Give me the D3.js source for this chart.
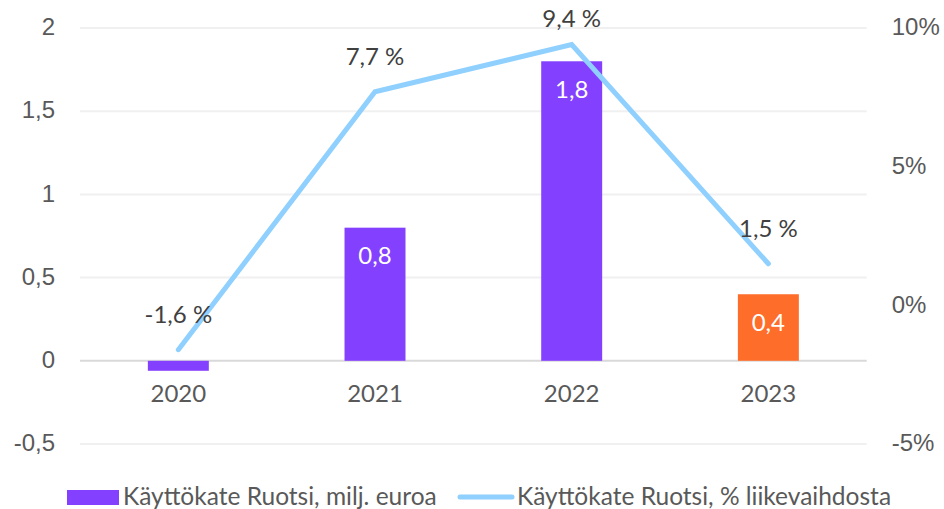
<!DOCTYPE html>
<html><head><meta charset="utf-8">
<script src="https://cdn.jsdelivr.net/npm/d3@7"></script>
<style>body{margin:0;background:#fff}svg{display:block;font-family:Lato,"Open Sans",sans-serif}</style>
</head><body><svg id="c" width="944" height="509"></svg>
<script>
const categories = ["2020","2021","2022","2023"];
const barValues = [-0.06, 0.8, 1.8, 0.4];
const barLabels = ["", "0,8", "1,8", "0,4"];
const lineValues = [-1.6, 7.7, 9.4, 1.5];
const lineLabels = ["-1,6 %", "7,7 %", "9,4 %", "1,5 %"];
const leftTicks = [-0.5, 0, 0.5, 1, 1.5, 2];
const rightTicks = [-5, 0, 5, 10];
const barColors = ["#8440FF","#8440FF","#8440FF","#FF6D2A"];

const svg = d3.select("#c");
const pL = 80, pR = 866.7, pT = 28, pB = 444;
const FS = 24;
const x = d3.scaleBand().domain(categories).range([pL, pR]).padding(0);
const yL = d3.scaleLinear().domain([-0.5, 2]).range([pB, pT]);
const yR = d3.scaleLinear().domain([-5, 10]).range([pB, pT]);
const fmt = d => String(d).replace(".", ",");
const bw = x.bandwidth() * 0.31;
const cx = d => x(d) + x.bandwidth() / 2;

// gridlines
svg.append("g").selectAll("line").data(leftTicks).join("line")
  .attr("x1", pL).attr("x2", pR)
  .attr("y1", d => yL(d)).attr("y2", d => yL(d))
  .attr("stroke", d => d === 0 ? "#d9d9d9" : "#f0f0f0").attr("stroke-width", 2);

// left axis
const axL = svg.append("g").attr("transform", `translate(${pL - 25},0)`)
  .call(d3.axisLeft(yL).tickValues(leftTicks).tickFormat(fmt).tickSize(0).tickPadding(0));
axL.select(".domain").remove();
axL.selectAll("text").attr("font-size", FS).attr("fill", "#595959").attr("font-family", "inherit").attr("dy", "0.28em");

// right axis
const axR = svg.append("g").attr("transform", `translate(${pR + 25},0)`)
  .call(d3.axisRight(yR).tickValues(rightTicks).tickFormat(d => d + "%").tickSize(0).tickPadding(0));
axR.select(".domain").remove();
axR.selectAll("text").attr("font-size", FS).attr("fill", "#595959").attr("font-family", "inherit").attr("dy", "0.28em");

// bars
svg.append("g").selectAll("rect").data(categories).join("rect")
  .attr("x", d => cx(d) - bw / 2).attr("width", bw)
  .attr("y", (d, i) => Math.min(yL(barValues[i]), yL(0)))
  .attr("height", (d, i) => Math.abs(yL(barValues[i]) - yL(0)))
  .attr("fill", (d, i) => barColors[i]);

// category labels
svg.append("g").selectAll("text").data(categories).join("text")
  .attr("x", d => cx(d)).attr("y", yL(0) + 41).attr("text-anchor", "middle")
  .attr("font-size", FS).attr("fill", "#595959").text(d => d);

// bar labels
svg.append("g").selectAll("text").data(categories).join("text")
  .attr("x", d => cx(d)).attr("y", (d, i) => yL(barValues[i]) + 36.5).attr("text-anchor", "middle")
  .attr("font-size", FS).attr("fill", "#fff").text((d, i) => barLabels[i]);

// line
svg.append("path").datum(categories)
  .attr("d", d3.line().x(d => cx(d)).y((d, i) => yR(lineValues[i])))
  .attr("fill", "none").attr("stroke", "#8FD0FF").attr("stroke-width", 5)
  .attr("stroke-linecap", "round").attr("stroke-linejoin", "miter");

// line labels
svg.append("g").selectAll("text").data(categories).join("text")
  .attr("x", d => cx(d)).attr("y", (d, i) => Math.max(yR(lineValues[i]) - 27, 27)).attr("text-anchor", "middle")
  .attr("font-size", FS).attr("fill", "#404040").text((d, i) => lineLabels[i]);

// legend
const lg = svg.append("g");
lg.append("rect").attr("x", 67).attr("y", 490).attr("width", 52).attr("height", 15).attr("fill", barColors[0]);
lg.append("text").attr("x", 123).attr("y", 505).attr("font-size", 24.5).attr("fill", "#595959").text("Käyttökate Ruotsi, milj. euroa");
lg.append("line").attr("x1", 460).attr("x2", 512).attr("y1", 497).attr("y2", 497)
  .attr("stroke", "#8FD0FF").attr("stroke-width", 5).attr("stroke-linecap", "round");
lg.append("text").attr("x", 517).attr("y", 505).attr("font-size", 24.5).attr("fill", "#595959").text("Käyttökate Ruotsi, % liikevaihdosta");
</script></body></html>
